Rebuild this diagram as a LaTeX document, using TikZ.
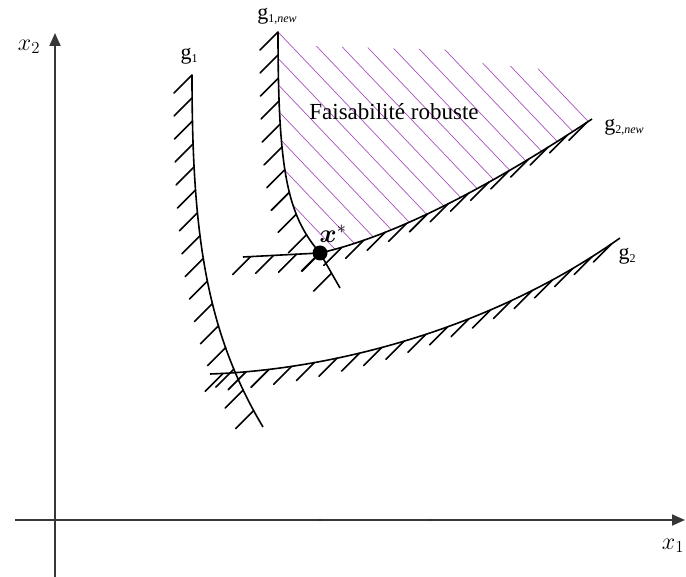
\documentclass[tikz,border=0pt]{standalone}
\usepackage{fix-cm}
\usepackage{amsmath}
\usepackage[no-math]{fontspec}
\setmainfont{Liberation Serif}
\usetikzlibrary{decorations.markings,arrows.meta}
\definecolor{axisgray}{RGB}{55,55,55}
\definecolor{hatchpurple}{RGB}{170,80,190}
\begin{document}
\begin{tikzpicture}[x=1pt,y=-1pt,
  axis/.style={line width=1.8pt, draw=axisgray, -{Triangle[length=13pt,width=11pt]}},
  curve/.style={line width=1.6pt, black},
  hatchline/.style={line width=1.6pt, black, line cap=round},
  hatched/.style={decoration={markings,
      mark=between positions #1 and 1 step 23pt with {\pgftransformresetnontranslations
        \draw[hatchline] (0,0) -- (-18pt,-18pt);}},
    postaction={decorate}},
  lbl/.style={inner sep=0pt, font=\fontsize{22}{22}\selectfont},
  purp/.style={line width=0.7pt, draw=hatchpurple}
]
\useasboundingbox (0,0) rectangle (686,577);

% key points
\coordinate (O1) at (15,520);
\coordinate (X1) at (685,520);
\coordinate (O2) at (55,577);
\coordinate (X2) at (55,33);
\coordinate (g1a) at (192,75);
\coordinate (g1b) at (263,427);
\coordinate (g2a) at (210,374);
\coordinate (g2b) at (620,238);
\coordinate (xs) at (320,253);
\coordinate (n1a) at (278,32);
\coordinate (n1b) at (340,288);
\coordinate (n2a) at (243,257);
\coordinate (n2b) at (592,119);
\coordinate (t1) at (320,520);
\coordinate (t2) at (430,520);

% axes
\draw[axis] (O1) -- (X1);
\draw[axis] (O2) -- (X2);
\fill[axisgray] (t1) circle (1.3);
\fill[axisgray] (t2) circle (1.3);

% robust feasibility hatching
\begin{scope}
  \clip (n1a) .. controls (278,170) and (287,215) .. (xs)
        .. controls (400,235) and (500,180) .. (n2b)
        -- (550,70) -- (480,63) -- (455,50) -- (310,46) -- cycle;
  \foreach \i in {-10,...,15}
    \draw[purp] (266.6+25*\i,20) -- ++(400,420);
\end{scope}

% g1
\draw[curve, hatched=0] (g1a) .. controls (192,230) and (205,330) .. (g1b);
% g2
\draw[curve, hatched=0.03] (g2a) .. controls (330,370) and (490,330) .. (g2b);
% g1,new
\draw[curve, hatched=0] (n1a) .. controls (278,170) and (287,215) .. (xs) -- (n1b);
% g2,new
\draw[curve, hatched=0.02] (n2a) -- (xs) .. controls (400,235) and (500,180) .. (n2b);

% optimum point
\node[circle, fill=black, inner sep=0pt, minimum size=15pt] (xsdot) at (xs) {};

% labels
\node (lx2) at (29,47) {\fontsize{24}{24}\selectfont $x_2$};
\node (lx1) at (673,546) {\fontsize{24}{24}\selectfont $x_1$};
\node[lbl] (lg1) at (189,56) {g\raisebox{-3pt}{\fontsize{12}{12}\selectfont 1}};
\node[lbl] (lg1n) at (277,16) {g\raisebox{-3pt}{\fontsize{12}{12}\selectfont 1,\textit{new}}};
\node[lbl] (lg2n) at (624,127) {g\raisebox{-3pt}{\fontsize{12}{12}\selectfont 2,\textit{new}}};
\node[lbl] (lg2) at (627,256) {g\raisebox{-3pt}{\fontsize{12}{12}\selectfont 2}};
\node (lxs) at (333,234) {\fontsize{26}{26}\selectfont $\boldsymbol{x}^{*}$};
\node (lfr) at (394,112) {\fontsize{23}{23}\selectfont Faisabilité robuste};
\end{tikzpicture}
\end{document}
